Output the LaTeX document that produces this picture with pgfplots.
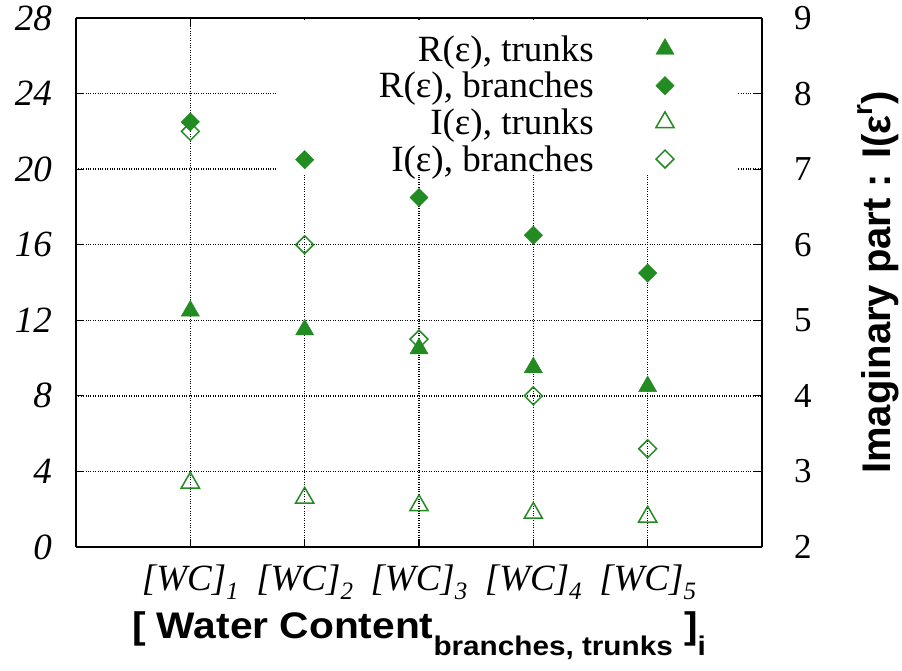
\documentclass[border=0pt]{standalone}
\usepackage{pgfplots}
\pgfplotsset{compat=1.18}
\usepackage{fontspec}
\setmainfont{Liberation Serif}
\setsansfont{Liberation Sans}
\newfontfamily\labfont[FakeStretch=1.1]{Liberation Sans}
\definecolor{fgreen}{HTML}{228B22}
\newcommand{\wc}[1]{\textit{[WC]}\raisebox{-0.22em}{\fontsize{25}{25}\selectfont\itshape #1}}
\begin{document}
\begin{tikzpicture}
\begin{axis}[
  name=main,
  scale only axis, width=686pt, height=529pt,
  xmin=0, xmax=6, ymin=0, ymax=28,
  xtick={1,2,3,4,5}, xticklabels={\wc{1},\wc{2},\wc{3},\wc{4},\wc{5}},
  ytick={0,4,...,28},
  axis y line*=left,
  axis line style={line width=1.6pt},
  major tick length=8pt,
  tick style={line width=1.2pt, black},
  xtick pos=both,
  grid=major,
  major grid style={dotted, line width=1.4pt, black},
  /pgf/number format/assume math mode=true,
  yticklabel style={font=\fontsize{37}{40}\selectfont\itshape, inner sep=0pt, xshift=-24pt},
  xticklabel style={font=\fontsize{37}{40}\selectfont, inner sep=0pt, yshift=-18pt},
  every axis x label/.style={at={(rel axis cs:0.5,0)}, anchor=north, yshift=-64pt, inner sep=0pt},
  xlabel={\labfont\bfseries\fontsize{37}{44}\selectfont [ Water Content\raisebox{-0.47em}{\fontsize{27}{29}\selectfont branches, trunks} ]\raisebox{-0.47em}{\fontsize{27}{29}\selectfont i}},
  legend style={at={(rel axis cs:0.872,0.967)}, anchor=north east, draw=none, fill=none,
    inner sep=0pt, outer sep=0pt, nodes={inner sep=0pt},
    font=\fontsize{37}{37}\selectfont, row sep=9.5pt, column sep=62pt},
  legend cell align=right, legend plot pos=right,
]
\fill[white] (axis cs:1.77,19.7) rectangle (axis cs:5.79,27.9);
\addplot[only marks, mark=triangle*, mark size=10.5pt, color=fgreen] coordinates {(1,12.5) (2,11.5) (3,10.5) (4,9.5) (5,8.5)};
\addlegendentry{R(ε), trunks}
\addplot[only marks, mark=square*, mark size=6.5pt, mark options={rotate=45}, color=fgreen] coordinates {(1,22.5) (2,20.5) (3,18.5) (4,16.5) (5,14.5)};
\addlegendentry{R(ε), branches}
\addlegendimage{only marks, mark=triangle, mark size=10.5pt, color=fgreen, mark options={line width=1.5pt}}
\addlegendentry{I(ε), trunks}
\addlegendimage{only marks, mark=square, mark size=6.3pt, color=fgreen, mark options={rotate=45, line width=1.5pt}}
\addlegendentry{I(ε), branches}
\end{axis}
\begin{axis}[
  scale only axis, width=686pt, height=529pt,
  xmin=0, xmax=6, ymin=2, ymax=9,
  axis y line*=right, axis x line=none,
  ytick={2,3,...,9},
  axis line style={line width=1.6pt},
  major tick length=8pt,
  tick style={line width=1.2pt, black},
  /pgf/number format/assume math mode=true,
  yticklabel style={font=\fontsize{35}{40}\selectfont, inner sep=0pt, xshift=32pt},
  every axis y label/.style={at={(rel axis cs:1,0.5)}, xshift=95pt, rotate=90, anchor=north, inner sep=0pt},
  ylabel={\sffamily\bfseries\fontsize{40}{44}\selectfont Imaginary part : I(ε\raisebox{0.45em}{\fontsize{28}{28}\selectfont r})},
]
\addplot[only marks, mark=triangle, mark size=10.5pt, color=fgreen, mark options={line width=1.5pt}] coordinates {(1,2.85) (2,2.65) (3,2.55) (4,2.45) (5,2.4)};
\addplot[only marks, mark=square, mark size=6.3pt, color=fgreen, mark options={rotate=45, line width=1.5pt}] coordinates {(1,7.5) (2,6.0) (3,4.75) (4,4.0) (5,3.3)};
\end{axis}
\path ([xshift=-76pt,yshift=-124pt]main.south west) rectangle ([xshift=140pt,yshift=18pt]main.north east);
\end{tikzpicture}
\end{document}
